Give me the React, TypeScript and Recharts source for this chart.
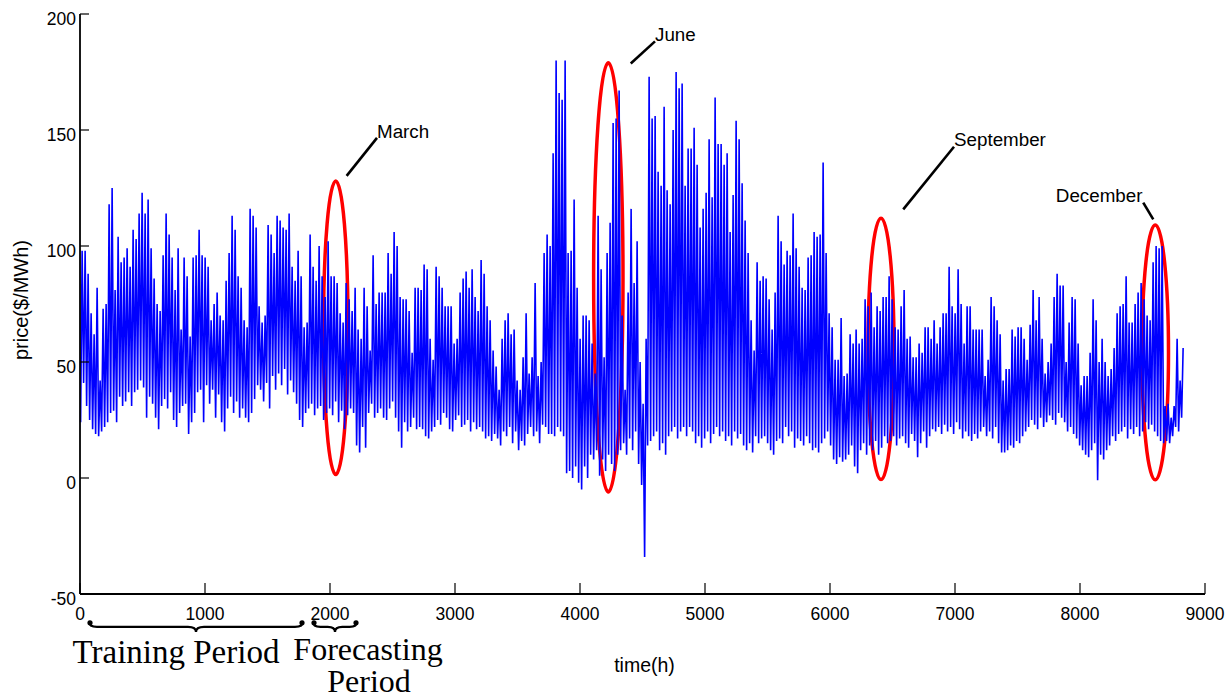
import React from 'react';
import { LineChart, Line, XAxis, YAxis, ReferenceArea, ReferenceLine, ReferenceDot } from 'recharts';

// Daily peak / trough prices ($/MWh), in consecutive blocks of days
const high1 = [98, 98, 88, 71, 62, 82, 42, 73, 75, 118, 125, 81, 104, 93, 95, 99, 91, 107, 103, 114, 123, 114, 120, 99, 86, 75, 72, 96, 114, 105, 95, 81, 99, 64, 95, 87, 61, 95, 96, 107, 96, 95, 91, 68, 75, 80, 70];
const low1 = [24, 41, 31, 25, 21, 19, 18, 20, 22, 24, 28, 29, 24, 35, 31, 33, 37, 31, 37, 38, 42, 39, 26, 35, 32, 26, 21, 31, 34, 30, 37, 25, 22, 28, 31, 32, 19, 24, 28, 37, 38, 24, 40, 32, 38, 26, 36];
const high2 = [68, 85, 97, 113, 107, 87, 82, 68, 65, 116, 113, 108, 74, 67, 70, 109, 105, 97, 113, 111, 108, 107, 114, 91, 85, 98, 87, 65, 67, 105, 91, 85, 100, 87, 78, 102, 87, 87, 84, 71, 67, 84, 77, 72, 82, 64, 60];
const low2 = [24, 20, 30, 35, 28, 33, 26, 30, 26, 24, 28, 34, 40, 38, 33, 41, 30, 44, 38, 45, 40, 47, 36, 42, 37, 32, 25, 22, 28, 30, 32, 27, 30, 31, 25, 28, 30, 27, 33, 24, 29, 21, 27, 30, 28, 14, 11];
const high3 = [82, 74, 55, 96, 75, 80, 80, 80, 97, 88, 106, 100, 78, 77, 77, 72, 54, 82, 82, 81, 92, 90, 60, 51, 91, 87, 82, 74, 74, 74, 58, 60, 80, 86, 89, 82, 90, 78, 72, 94, 88, 74, 68, 55, 48, 38, 60];
const low3 = [22, 13, 28, 32, 26, 28, 30, 26, 25, 30, 33, 26, 20, 13, 24, 20, 22, 26, 21, 22, 21, 18, 17, 20, 22, 25, 23, 28, 26, 21, 20, 25, 27, 22, 23, 25, 20, 24, 21, 22, 20, 17, 18, 16, 19, 17, 14];
const high4 = [68, 71, 62, 64, 42, 38, 52, 71, 45, 52, 84, 44, 50, 97, 105, 100, 140, 180, 166, 163, 180, 97, 98, 120, 82, 60, 70, 70, 68, 58, 45, 113, 90, 52, 97, 110, 153, 155, 167, 70, 38, 80, 116, 84, 102, 50, 32];
const low4 = [20, 18, 22, 15, 20, 12, 16, 14, 19, 22, 18, 20, 15, 23, 22, 19, 19, 18, 22, 20, 18, 2, 3, 0, 5, -2, -5, 5, 0, 10, 8, 12, 1, 8, 3, 10, 6, 3, 10, 12, 15, 10, 17, 12, 20, 6, -3];
const high5 = [60, 173, 155, 156, 132, 126, 160, 124, 118, 150, 175, 168, 170, 126, 142, 142, 151, 135, 108, 116, 123, 146, 121, 164, 144, 144, 135, 140, 106, 122, 154, 146, 127, 111, 97, 68, 55, 93, 85, 87, 86, 77, 64, 80, 113, 102, 92];
const low5 = [-34, 14, 16, 18, 20, 12, 15, 10, 18, 20, 22, 17, 20, 22, 18, 22, 20, 15, 18, 13, 17, 20, 15, 19, 22, 18, 20, 16, 18, 14, 20, 17, 19, 14, 12, 15, 11, 18, 15, 17, 18, 15, 12, 10, 16, 17, 15];
const high6 = [98, 96, 114, 99, 91, 82, 81, 95, 96, 106, 104, 105, 136, 97, 71, 65, 51, 51, 69, 44, 45, 62, 58, 64, 58, 60, 77, 74, 80, 65, 74, 72, 78, 78, 87, 77, 65, 64, 74, 81, 60, 61, 52, 52, 58, 54, 65];
const low6 = [22, 18, 20, 13, 17, 16, 14, 18, 15, 12, 13, 11, 15, 17, 20, 14, 8, 6, 9, 7, 8, 10, 14, 5, 2, 12, 15, 10, 14, 12, 16, 10, 13, 18, 15, 16, 18, 14, 17, 18, 15, 13, 19, 16, 9, 15, 20];
const high7 = [65, 60, 68, 58, 65, 71, 71, 91, 74, 71, 90, 75, 58, 74, 74, 64, 64, 64, 64, 44, 51, 78, 74, 68, 62, 42, 47, 47, 64, 61, 65, 65, 60, 51, 66, 81, 68, 78, 60, 45, 50, 58, 78, 88, 83, 83];
const low7 = [13, 18, 21, 20, 22, 19, 23, 20, 22, 19, 24, 21, 17, 20, 18, 16, 19, 17, 20, 22, 18, 20, 17, 22, 15, 11, 11, 12, 14, 13, 16, 15, 18, 20, 22, 25, 23, 21, 26, 22, 24, 27, 25, 23, 28, 26];
const high8 = [50, 67, 78, 77, 58, 40, 44, 44, 54, 77, 68, 50, 60, 50, 44, 47, 56, 71, 74, 75, 87, 67, 67, 75, 80, 84, 77, 70, 68, 93, 100, 99, 100, 31, 32, 26, 31, 60, 42, 56];
const low8 = [24, 20, 22, 19, 17, 14, 12, 10, 9, 12, 15, -1, 10, 8, 12, 14, 18, 16, 19, 20, 22, 17, 21, 19, 22, 18, 20, 24, 21, 23, 20, 18, 16, 15, 16, 15, 18, 22, 20, 26];

const xTicks = [0, 1000, 2000, 3000, 4000, 5000, 6000, 7000, 8000, 9000];
const yTicks = [-50, 0, 50, 100, 150, 200];

const dailyHigh = [...high1, ...high2, ...high3, ...high4, ...high5, ...high6, ...high7, ...high8];
const dailyLow = [...low1, ...low2, ...low3, ...low4, ...low5, ...low6, ...low7, ...low8];
const data = dailyHigh.flatMap((h, d) => [
  { t: d * 24 + 5, price: dailyLow[d] },
  { t: d * 24 + 17, price: h },
]);

const SANS = '"Liberation Sans", Arial, Helvetica, sans-serif';
const SERIF = '"Liberation Serif", "Times New Roman", serif';

const BottomTick = (props: any) => {
  const { x, y, payload } = props;
  return (
    <g>
      <line x1={x} y1={y} x2={x} y2={y - 11} stroke="#000" strokeWidth={1.2} />
      <text x={x} y={y + 26} textAnchor="middle" fontSize={17.5} fontFamily={SANS} fill="#000">{payload.value}</text>
    </g>
  );
};
const TopTick = (props: any) => {
  const { x, y } = props;
  return <line x1={x} y1={y} x2={x} y2={y + 11} stroke="#000" strokeWidth={1.2} />;
};
const LeftTick = (props: any) => {
  const { x, y, payload } = props;
  return (
    <g>
      <line x1={x} y1={y} x2={x + 9} y2={y} stroke="#000" strokeWidth={1.2} />
      <text x={x - 4} y={y + 11} textAnchor="end" fontSize={17.5} fontFamily={SANS} fill="#000">{payload.value}</text>
    </g>
  );
};
const RightTick = (props: any) => {
  const { x, y } = props;
  return <line x1={x} y1={y} x2={x - 9} y2={y} stroke="#000" strokeWidth={1.2} />;
};

const EllipseShape = (props: any) => {
  const { x, y, width, height } = props;
  return (
    <ellipse cx={x + width / 2} cy={y + height / 2} rx={Math.abs(width) / 2} ry={Math.abs(height) / 2}
      fill="none" stroke="#ff0000" strokeWidth={3.5} />
  );
};

const BraceShape = (props: any) => {
  const { x, y, width, height } = props;
  const x0 = x, x1 = x + width, xm = x + width / 2;
  const ym = y + height / 2, yb = y + height;
  const q = Math.min(8, width / 6);
  const d = `M ${x0} ${y} Q ${x0} ${ym} ${x0 + q} ${ym} L ${xm - q} ${ym} Q ${xm} ${ym} ${xm} ${yb} Q ${xm} ${ym} ${xm + q} ${ym} L ${x1 - q} ${ym} Q ${x1} ${ym} ${x1} ${y}`;
  return (
    <g>
      <path d={d} fill="none" stroke="#000" strokeWidth={2.2} strokeLinecap="round" />
      <circle cx={x0 + 1} cy={y + 1} r={2.6} fill="#000" />
      <circle cx={x1 - 1} cy={y + 1} r={2.6} fill="#000" />
    </g>
  );
};

const makeText = (text: string, anchor: string, size: number, family: string) => (props: any) => (
  <text x={props.cx} y={props.cy} textAnchor={anchor} fontSize={size} fontFamily={family} fill="#000">{text}</text>
);

const ellipses = [
  { x1: 1948, x2: 2144, y1: 1.5, y2: 128 },
  { x1: 4109, x2: 4344, y1: -6, y2: 179 },
  { x1: 6304, x2: 6512, y1: -0.7, y2: 112 },
  { x1: 8496, x2: 8708, y1: -0.8, y2: 109 },
];
const pointers = [
  [{ x: 2133, y: 130.2 }, { x: 2376, y: 146.6 }],
  [{ x: 4406, y: 178.7 }, { x: 4600, y: 188.2 }],
  [{ x: 6586, y: 115.8 }, { x: 6992, y: 142.8 }],
  [{ x: 8506, y: 118.7 }, { x: 8586, y: 111.5 }],
];
const monthLabels = [
  { x: 2376, y: 146.6, text: 'March', anchor: 'start' },
  { x: 4600, y: 188.5, text: 'June', anchor: 'start' },
  { x: 6992, y: 143.1, text: 'September', anchor: 'start' },
  { x: 8500, y: 119.1, text: 'December', anchor: 'end' },
];

export default function App() {
  return (
    <div style={{ position: 'absolute', left: 0, top: 0, width: 1229, height: 700, background: '#fff' }}>
      <LineChart width={1229} height={700} data={data} margin={{ top: 14, right: 24, bottom: 0, left: 0 }}>
        <XAxis type="number" dataKey="t" domain={[0, 9000]} ticks={xTicks} height={106}
          tick={<BottomTick />} tickLine={false} tickSize={0} tickMargin={0}
          axisLine={{ stroke: '#000', strokeWidth: 1.8 }}
          label={{
            content: (p: any) => {
              const vb = p.viewBox;
              return <text x={vb.x + vb.width / 2 + 2} y={vb.y + 78} textAnchor="middle" fontSize={19.5} fontFamily={SANS} fill="#000">time(h)</text>;
            },
          }} />
        <XAxis xAxisId="top" orientation="top" type="number" dataKey="t" domain={[0, 9000]} ticks={xTicks} height={0}
          tick={<TopTick />} tickLine={false} tickSize={0} tickMargin={0}
          axisLine={{ stroke: '#000', strokeWidth: 1.8 }} />
        <YAxis type="number" domain={[-50, 200]} ticks={yTicks} width={80}
          tick={<LeftTick />} tickLine={false} tickSize={0} tickMargin={0}
          axisLine={{ stroke: '#000', strokeWidth: 1.8 }}
          label={{
            content: (p: any) => {
              const vb = p.viewBox;
              const cy = vb.y + vb.height / 2 - 4;
              return <text x={28} y={cy} transform={`rotate(-90 28 ${cy})`} textAnchor="middle" fontSize={20} fontFamily={SANS} fill="#000">price($/MWh)</text>;
            },
          }} />
        <YAxis yAxisId="right" orientation="right" type="number" domain={[-50, 200]} ticks={yTicks} width={0}
          tick={<RightTick />} tickLine={false} tickSize={0} tickMargin={0}
          axisLine={{ stroke: '#000', strokeWidth: 1.8 }} />
        <Line type="linear" dataKey="price" stroke="#0000ff" strokeWidth={1.6} dot={false} activeDot={false} isAnimationActive={false} />
        {ellipses.map((e, i) => (
          <ReferenceArea key={`e${i}`} x1={e.x1} x2={e.x2} y1={e.y1} y2={e.y2} ifOverflow="visible" shape={EllipseShape} />
        ))}
        {pointers.map((seg, i) => (
          <ReferenceLine key={`p${i}`} segment={seg} stroke="#000" strokeWidth={2.6} ifOverflow="visible" />
        ))}
        {monthLabels.map((m, i) => (
          <ReferenceDot key={`m${i}`} x={m.x} y={m.y} r={0} ifOverflow="visible" shape={makeText(m.text, m.anchor, 18.8, SANS)} />
        ))}
        <ReferenceArea x1={72} x2={1784} y1={-66.4} y2={-62} ifOverflow="visible" shape={BraceShape} />
        <ReferenceArea x1={1864} x2={2216} y1={-66.4} y2={-62} ifOverflow="visible" shape={BraceShape} />
        <ReferenceDot x={768} y={-79.7} r={0} ifOverflow="visible" shape={makeText('Training Period', 'middle', 33, SERIF)} />
        <ReferenceDot x={2304} y={-78.5} r={0} ifOverflow="visible" shape={makeText('Forecasting', 'middle', 32, SERIF)} />
        <ReferenceDot x={2312} y={-92.2} r={0} ifOverflow="visible" shape={makeText('Period', 'middle', 32, SERIF)} />
      </LineChart>
    </div>
  );
}
